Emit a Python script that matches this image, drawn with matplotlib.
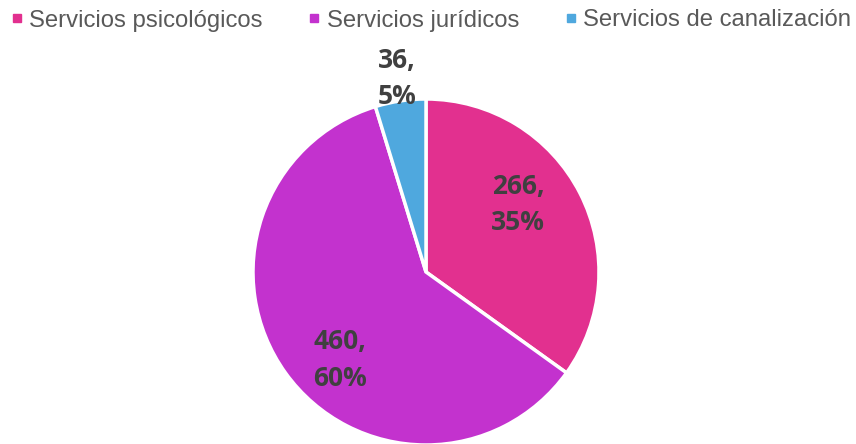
import matplotlib
matplotlib.use("Agg")
import matplotlib.pyplot as plt
from matplotlib.lines import Line2D
import numpy as np

categories = ["Servicios psicológicos", "Servicios jurídicos", "Servicios de canalización"]
values = [266, 460, 36]
colors = ["#E2308F", "#C332CE", "#4FA8DE"]
label_radius = [0.66, 0.71, 1.13]
label_angle_shift = [9, 10, 0]

W, H = 856, 444
fig = plt.figure(figsize=(W / 100, H / 100), dpi=100)
cx, cy, R = 426, 272, 173
ax = fig.add_axes([(cx - R) / W, (H - cy - R) / H, 2 * R / W, 2 * R / H])

total = sum(values)
wedges, _ = ax.pie(values, colors=colors, startangle=90, counterclock=False,
                   wedgeprops=dict(edgecolor="white", linewidth=2.5))
ax.set_xlim(-1, 1)
ax.set_ylim(-1, 1)
ax.set_aspect("equal")

cum = 0
for v, r, sh in zip(values, label_radius, label_angle_shift):
    mid = 90 - (cum + v / 2) / total * 360 + sh
    cum += v
    pct = round(v / total * 100)
    ax.text(r * np.cos(np.radians(mid)), r * np.sin(np.radians(mid)),
            f"{v},\n{pct}%", ha="center", va="center", fontsize=19,
            fontweight="bold", family=["Open Sans", "DejaVu Sans"],
            color="#404040", linespacing=1.45)

handles = [Line2D([], [], marker="s", linestyle="none", markersize=5.2,
                  markerfacecolor=c, markeredgecolor=c) for c in colors]
fig.legend(handles, categories, loc="center left", bbox_to_anchor=(13 / W, 1 - 20.5 / H),
           ncol=3, frameon=False, handlelength=0.3, handletextpad=0.38,
           columnspacing=2.0, borderpad=0, borderaxespad=0,
           prop=dict(family=["Liberation Sans", "DejaVu Sans"], size=17.2),
           labelcolor="#595959")

fig.savefig("out.png", dpi=100)
